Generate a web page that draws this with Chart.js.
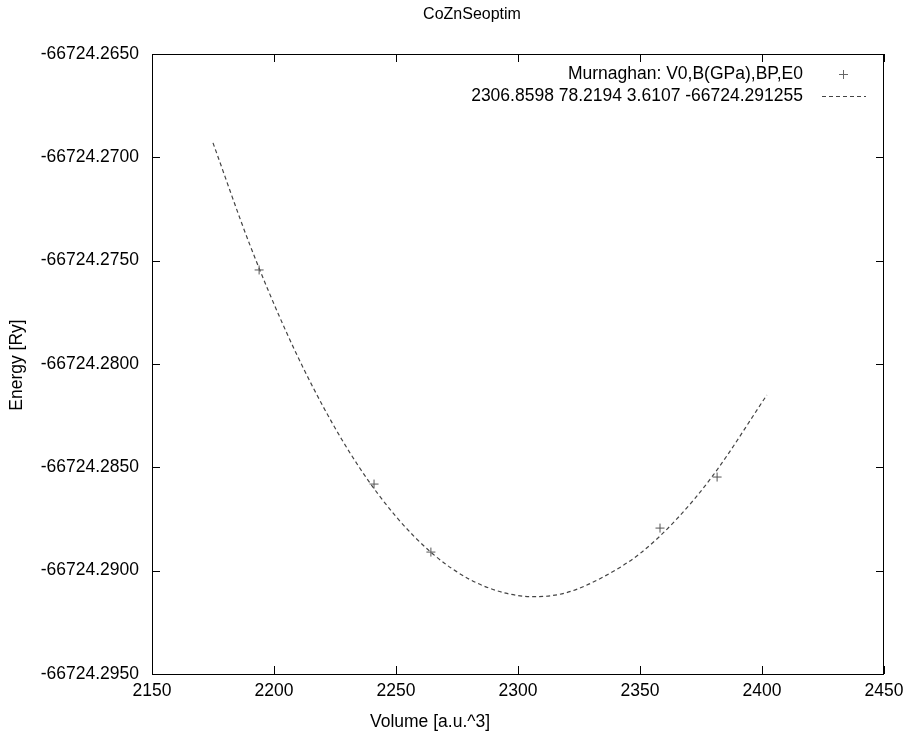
<!DOCTYPE html>
<html>
<head>
<meta charset="utf-8">
<title>CoZnSeoptim</title>
<script src="https://cdn.jsdelivr.net/npm/chart.js@4/dist/chart.umd.min.js"></script>
<style>
  html, body { margin: 0; padding: 0; background: #fff; }
  #wrap { width: 914px; height: 737px; }
</style>
</head>
<body>
<div id="wrap"><canvas id="eos"></canvas></div>
<script>
// measured points
var volumes = [2193.9, 2241.0, 2264.3, 2358.2, 2381.6];
var energies = [-66724.27545, -66724.28581, -66724.28910, -66724.28794, -66724.28547];

// Murnaghan fit curve
var fitVolumes = [2175, 2190, 2205, 2220, 2235, 2250, 2265, 2280, 2295, 2307, 2320, 2335, 2350, 2365, 2380, 2402];
var fitEnergies = [-66724.26930, -66724.27420, -66724.27844, -66724.28203, -66724.28501, -66724.28738,
                   -66724.28918, -66724.29041, -66724.29109, -66724.29126, -66724.29106, -66724.29030,
                   -66724.28917, -66724.28751, -66724.28538, -66724.28150];

var xTicks = [2150, 2200, 2250, 2300, 2350, 2400, 2450];
var yTicks = [-66724.2950, -66724.2900, -66724.2850, -66724.2800, -66724.2750, -66724.2700, -66724.2650];

var titleText = "CoZnSeoptim";
var xLabel = "Volume [a.u.^3]";
var yLabel = "Energy [Ry]";
var legendLabels = ["Murnaghan: V0,B(GPa),BP,E0", "2306.8598 78.2194 3.6107 -66724.291255"];

var FONT = "'Liberation Sans', Arial, sans-serif";

// gnuplot style frame, inward ticks, labels and key
var gnuplotFrame = {
  id: "gnuplotFrame",
  afterDatasetsDraw: function(chart) {
    var ctx = chart.ctx, a = chart.chartArea;
    var xs = chart.scales.x, ys = chart.scales.y;
    ctx.save();
    ctx.strokeStyle = "#000";
    ctx.lineWidth = 1;
    ctx.beginPath();
    xTicks.forEach(function(v) {
      var px = Math.round(xs.getPixelForValue(v)) + 0.5;
      ctx.moveTo(px, a.bottom); ctx.lineTo(px, a.bottom - 8);
      ctx.moveTo(px, a.top); ctx.lineTo(px, a.top + 8);
    });
    yTicks.forEach(function(v) {
      var py = Math.round(ys.getPixelForValue(v)) + 0.5;
      ctx.moveTo(a.left, py); ctx.lineTo(a.left + 8, py);
      ctx.moveTo(a.right, py); ctx.lineTo(a.right - 8, py);
    });
    ctx.stroke();
    ctx.strokeRect(Math.round(a.left) + 0.5, Math.round(a.top) + 0.5,
                   Math.round(a.right - a.left) - 1, Math.round(a.bottom - a.top));

    ctx.fillStyle = "#000";
    ctx.textBaseline = "middle";
    ctx.font = "16px " + FONT;
    ctx.textAlign = "center";
    ctx.fillText(titleText, 472, 15);
    ctx.font = "17.5px " + FONT;
    ctx.fillText(xLabel, 430, 722);
    ctx.save();
    ctx.translate(17, 365);
    ctx.rotate(-Math.PI / 2);
    ctx.fillText(yLabel, 0, 0);
    ctx.restore();

    // key
    ctx.font = "17.5px " + FONT;
    ctx.textAlign = "right";
    ctx.fillText(legendLabels[0], 803, 74);
    ctx.fillText(legendLabels[1], 803, 96);
    ctx.strokeStyle = "#666";
    ctx.beginPath();
    ctx.moveTo(839, 74.5); ctx.lineTo(848, 74.5);
    ctx.moveTo(843.5, 70); ctx.lineTo(843.5, 79);
    ctx.stroke();
    ctx.strokeStyle = "#444";
    ctx.setLineDash([4, 3]);
    ctx.beginPath();
    ctx.moveTo(822, 96.5); ctx.lineTo(866, 96.5);
    ctx.stroke();
    ctx.restore();
  }
};

new Chart(document.getElementById("eos"), {
  type: "scatter",
  data: {
    datasets: [
      {
        label: legendLabels[0],
        data: volumes.map(function(v, i) { return { x: v, y: energies[i] }; }),
        pointStyle: "cross",
        pointRadius: 4.5,
        pointBorderWidth: 1,
        borderColor: "#555",
        backgroundColor: "#555"
      },
      {
        label: legendLabels[1],
        data: fitVolumes.map(function(v, i) { return { x: v, y: fitEnergies[i] }; }),
        showLine: true,
        pointRadius: 0,
        borderColor: "#444",
        borderWidth: 1.2,
        borderDash: [4, 3],
        cubicInterpolationMode: "monotone"
      }
    ]
  },
  options: {
    responsive: true,
    maintainAspectRatio: false,
    animation: false,
    layout: { padding: { top: 54, right: 30, left: 0, bottom: 23 } },
    plugins: {
      legend: { display: false },
      tooltip: { enabled: false },
      title: { display: false }
    },
    scales: {
      x: {
        type: "linear",
        min: 2150,
        max: 2450,
        afterBuildTicks: function(s) { s.ticks = xTicks.map(function(v) { return { value: v }; }); },
        afterFit: function(s) { s.height = 40; },
        grid: { display: false, drawTicks: false },
        border: { display: false },
        ticks: {
          color: "#000",
          padding: 7,
          maxRotation: 0,
          font: { family: FONT, size: 17.5 },
          callback: function(v) { return String(v); }
        }
      },
      y: {
        type: "linear",
        min: -66724.2950,
        max: -66724.2650,
        afterBuildTicks: function(s) { s.ticks = yTicks.map(function(v) { return { value: v }; }); },
        afterFit: function(s) { s.width = 152; },
        grid: { display: false, drawTicks: false },
        border: { display: false },
        ticks: {
          color: "#000",
          padding: 13,
          font: { family: FONT, size: 17.5 },
          callback: function(v) { return v.toFixed(4); }
        }
      }
    }
  },
  plugins: [gnuplotFrame]
});
</script>
</body>
</html>
